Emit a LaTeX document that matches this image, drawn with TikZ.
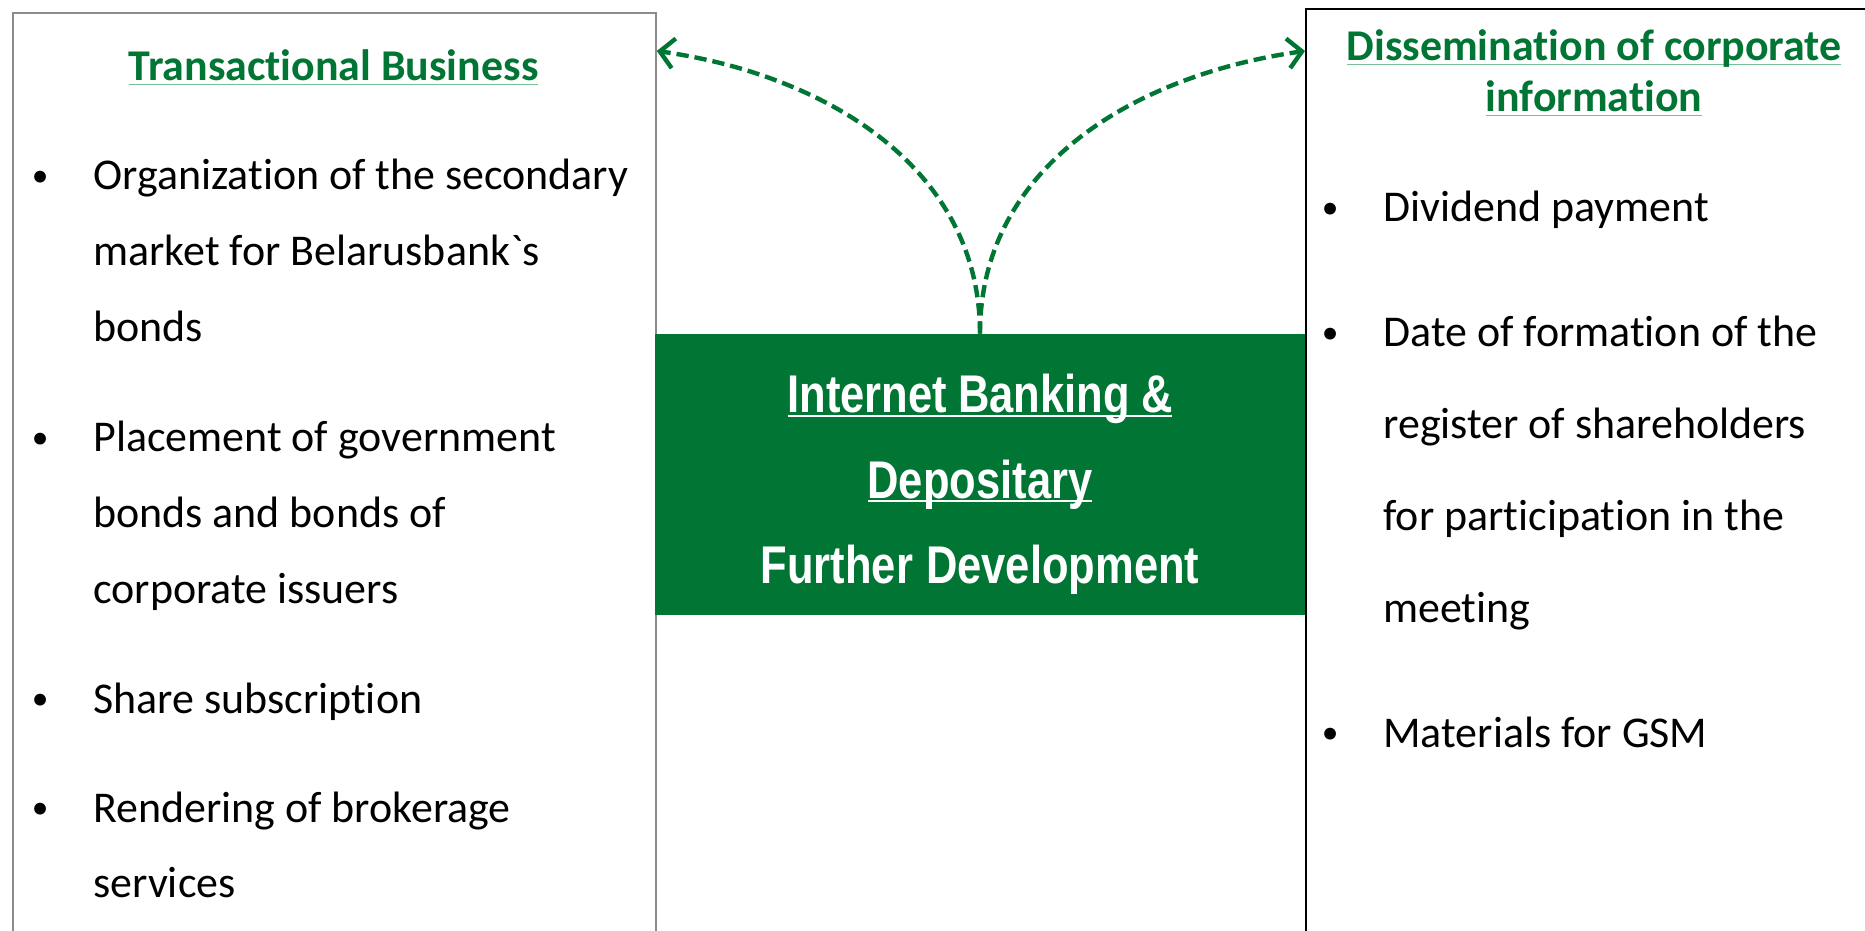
\documentclass[tikz,border=0pt]{standalone}
\usepackage{fontspec}
\setmainfont{Carlito}[Ligatures={TeX,NoCommon}]
\newfontfamily\narrowfont[FakeStretch=0.82]{Liberation Sans}
\usetikzlibrary{arrows.meta,calc}
\definecolor{bankgreen}{RGB}{0,117,52}
\definecolor{ulgreen}{RGB}{120,190,150}
\definecolor{boxgray}{RGB}{140,140,140}
\newcommand{\natspace}{\spaceskip=0.226em plus 0.08em\relax}
\newcommand{\hdline}[1]{\leavevmode\natspace\setbox0=\hbox{#1}\rlap{\textcolor{ulgreen}{\rule[-2.2pt]{\wd0}{0.7pt}}}\box0}
\newcommand{\whline}[1]{\leavevmode\setbox0=\hbox{#1}\rlap{\textcolor{white}{\rule[-2.4pt]{\wd0}{1.2pt}}}\box0}
\newcommand{\bul}{\leavevmode\natspace\llap{\makebox[60.4pt]{\raisebox{1.8pt}{\fontsize{19}{19}\selectfont\textbullet}}}}
\tikzset{
  leftbox/.style={draw=boxgray,line width=1.1pt,anchor=north west,minimum width=12.86cm,minimum height=18.76cm,inner sep=0pt},
  rightbox/.style={draw=black,line width=1.4pt,anchor=north west,minimum width=12cm,minimum height=18.84cm,inner sep=0pt},
  centerbox/.style={fill=bankgreen,minimum width=13cm,minimum height=5.62cm,inner sep=0pt},
  heading/.style={anchor=base,text width=11cm,align=center,inner sep=0pt,text=bankgreen,font=\fontsize{25}{29}\selectfont\bfseries},
  leftitem/.style={anchor=base west,text width=11.5cm,align=left,inner sep=0pt,font=\fontsize{25}{43.25}\selectfont},
  rightitem/.style={leftitem,font=\fontsize{25}{52.35}\selectfont},
  centertext/.style={anchor=base,text width=12cm,align=center,inner sep=0pt,text=white,font=\narrowfont\bfseries\fontsize{30.2}{48.4}\selectfont},
  conn/.style={draw=bankgreen,line width=2.5pt,dash pattern=on 7pt off 3.4pt,-{Straight Barb[length=8pt,width=17pt]}}
}
\begin{document}
\begin{tikzpicture}[x=0.02cm,y=0.02cm]
  \useasboundingbox (0,0) rectangle (1865,930);
  \clip (0,0) rectangle (1865,930);
  % the three boxes
  \node (lbox)[leftbox] at (12,918) {};
  \node (rbox)[rightbox] at (1305,922) {};
  \node (cbox)[centerbox] at (980,455.5) {};
  \node (ctext)[centertext] at (980,517) {\spaceskip=0.21em plus 0.05em\relax\whline{Internet Banking \&}\\ \whline{Depositary}\\ Further Development};
  % left column
  \node (lhead)[heading] at (333.5,849) {\hdline{Transactional Business}};
  \node (lit1)[leftitem] at (93,740) {\bul Organization of the secondary\\ market for Belarusbank\textasciigrave s\\ bonds};
  \node (lit2)[leftitem] at (93,478) {\bul Placement of government\\ bonds and bonds of\\ corporate issuers};
  \node (lit3)[leftitem] at (93,217) {\bul Share subscription};
  \node (lit4)[leftitem] at (93,108) {\bul Rendering of brokerage\\ services};
  % right column
  \node (rhead)[heading] at (1594,869) {\hdline{Dissemination of corporate}\\ \hdline{information}};
  \node (rit1)[rightitem] at (1383,708) {\bul Dividend payment};
  \node (rit2)[rightitem] at (1383,583) {\bul Date of formation of the\\ register of shareholders\\ for participation in the\\ meeting};
  \node (rit3)[rightitem] at (1383,183) {\bul Materials for GSM};
  % dashed links
  \draw [conn] (cbox.north) to[out=90,in=-8] ($(lbox.north east)+(0,-39)$);
  \draw [conn] (cbox.north) to[out=90,in=188] ($(rbox.north west)+(0,-43)$);
\end{tikzpicture}
\end{document}
